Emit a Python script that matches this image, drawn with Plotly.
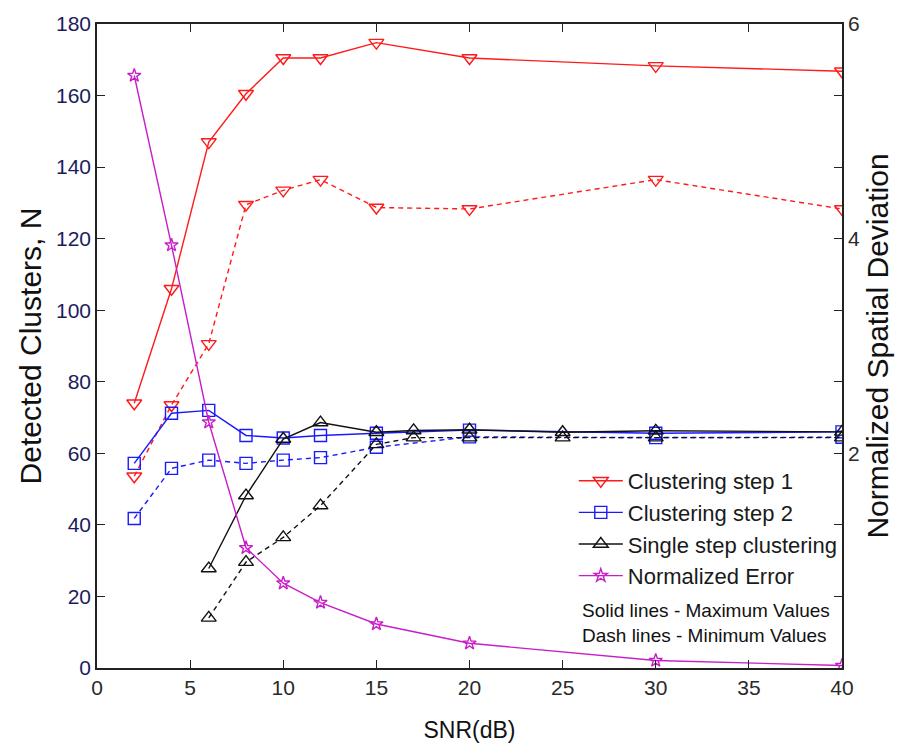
import plotly.graph_objects as go

# SNR sweep points (dB)
snr = [2, 4, 6, 8, 10, 12, 15, 20, 30, 40]
snr_single = [6, 8, 10, 12, 15, 17, 20, 25, 30, 40]

# Detected clusters, maximum (solid) and minimum (dashed) values
step1_max = [74, 106, 147, 160.5, 170.5, 170.5, 174.8, 170.5, 168.3, 166.8]
step1_min = [53.6, 73.5, 90.6, 129.5, 133.5, 136.5, 128.7, 128.3, 136.5, 128.3]
step2_max = [57.2, 71.2, 72, 65, 64.3, 65, 65.6, 66.5, 65.6, 66]
step2_min = [41.8, 55.8, 58.1, 57.2, 58.1, 58.8, 61.7, 64.6, 64.4, 64.5]
single_max = [27.8, 48.2, 64, 68.6, 65.9, 66.4, 66.6, 65.9, 66.3, 66]
single_min = [14, 29.6, 36.5, 45.4, 62.5, 64.4, 64.4, 64.4, 64.4, 64.4]

# Normalized spatial deviation (right axis)
norm_error = [5.52, 3.94, 2.29, 1.12, 0.79, 0.61, 0.41, 0.23, 0.07, 0.023]

# Axis ticks
x_ticks = [0, 5, 10, 15, 20, 25, 30, 35, 40]
y_ticks = [0, 20, 40, 60, 80, 100, 120, 140, 160, 180]
y2_tickvals = [v / 30 for v in y_ticks]
y2_ticktext = ["", "", "", "2", "", "", "4", "", "", "6"]

RED = "#ff1a1a"
BLUE = "#1a1aff"
BLACK = "#111111"
MAGENTA = "#c81ec8"
FONT = "Arial, Liberation Sans, sans-serif"
DASH = "5px,4px"

fig = go.Figure()


def add(x, y, name, color, symbol, size, dashed=False, yaxis="y", legend=True):
    fig.add_trace(go.Scatter(
        x=x, y=y, name=name, yaxis=yaxis,
        mode="lines+markers",
        line=dict(color=color, width=1.4, dash=DASH if dashed else "solid"),
        marker=dict(symbol=symbol, size=size, color=color,
                    line=dict(color=color, width=1.4)),
        showlegend=legend,
    ))


add(snr, step1_max, "Clustering step 1", RED, "triangle-down-open", 13)
add(snr, step1_min, "Clustering step 1 (min)", RED, "triangle-down-open", 13, dashed=True, legend=False)
add(snr, step2_max, "Clustering step 2", BLUE, "square-open", 12)
add(snr, step2_min, "Clustering step 2 (min)", BLUE, "square-open", 12, dashed=True, legend=False)
add(snr_single, single_max, "Single step clustering", BLACK, "triangle-up-open", 13)
add(snr_single, single_min, "Single step clustering (min)", BLACK, "triangle-up-open", 13, dashed=True, legend=False)
add(snr, norm_error, "Normalized Error", MAGENTA, "star-open", 10, yaxis="y2")

axis_common = dict(
    showline=True, linecolor="#222222", linewidth=1.5,
    ticks="inside", ticklen=8, tickcolor="#222222", tickwidth=1.3,
    showgrid=False, zeroline=False,
)

fig.update_layout(
    width=901, height=753,
    margin=dict(l=97, r=59, t=15, b=85),
    paper_bgcolor="white", plot_bgcolor="white",
    font=dict(family=FONT, color="#1a1a1a"),
    xaxis=dict(
        range=[0, 40], tickvals=x_ticks, mirror="ticks",
        tickfont=dict(size=21, color="#2a2a2a"),
        title=dict(text="SNR(dB)", font=dict(size=23, color="#111"), standoff=24),
        **axis_common,
    ),
    yaxis=dict(
        range=[0, 180], tickvals=y_ticks,
        tickfont=dict(size=21, color="#1c1c5c"),
        title=dict(text="Detected Clusters, N", font=dict(size=30, color="#111"), standoff=6),
        **axis_common,
    ),
    yaxis2=dict(
        overlaying="y", side="right", range=[0, 6],
        tickvals=y2_tickvals, ticktext=y2_ticktext,
        tickfont=dict(size=21, color="#2a2a2a"),
        title=dict(text="Normalized Spatial Deviation", font=dict(size=30, color="#111"), standoff=8),
        **axis_common,
    ),
    legend=dict(
        x=0.64, y=0.323, xanchor="left", yanchor="top",
        bgcolor="rgba(0,0,0,0)", borderwidth=0, itemwidth=44,
        font=dict(size=22, color="#1a1a1a"), tracegroupgap=0,
    ),
    annotations=[
        dict(text="Solid lines - Maximum Values", xref="paper", yref="paper",
             x=0.648, y=0.089, xanchor="left", yanchor="middle", showarrow=False,
             font=dict(size=19, color="#111")),
        dict(text="Dash lines - Minimum Values", xref="paper", yref="paper",
             x=0.648, y=0.05, xanchor="left", yanchor="middle", showarrow=False,
             font=dict(size=19, color="#111")),
    ],
)

fig.write_html("out.html")
